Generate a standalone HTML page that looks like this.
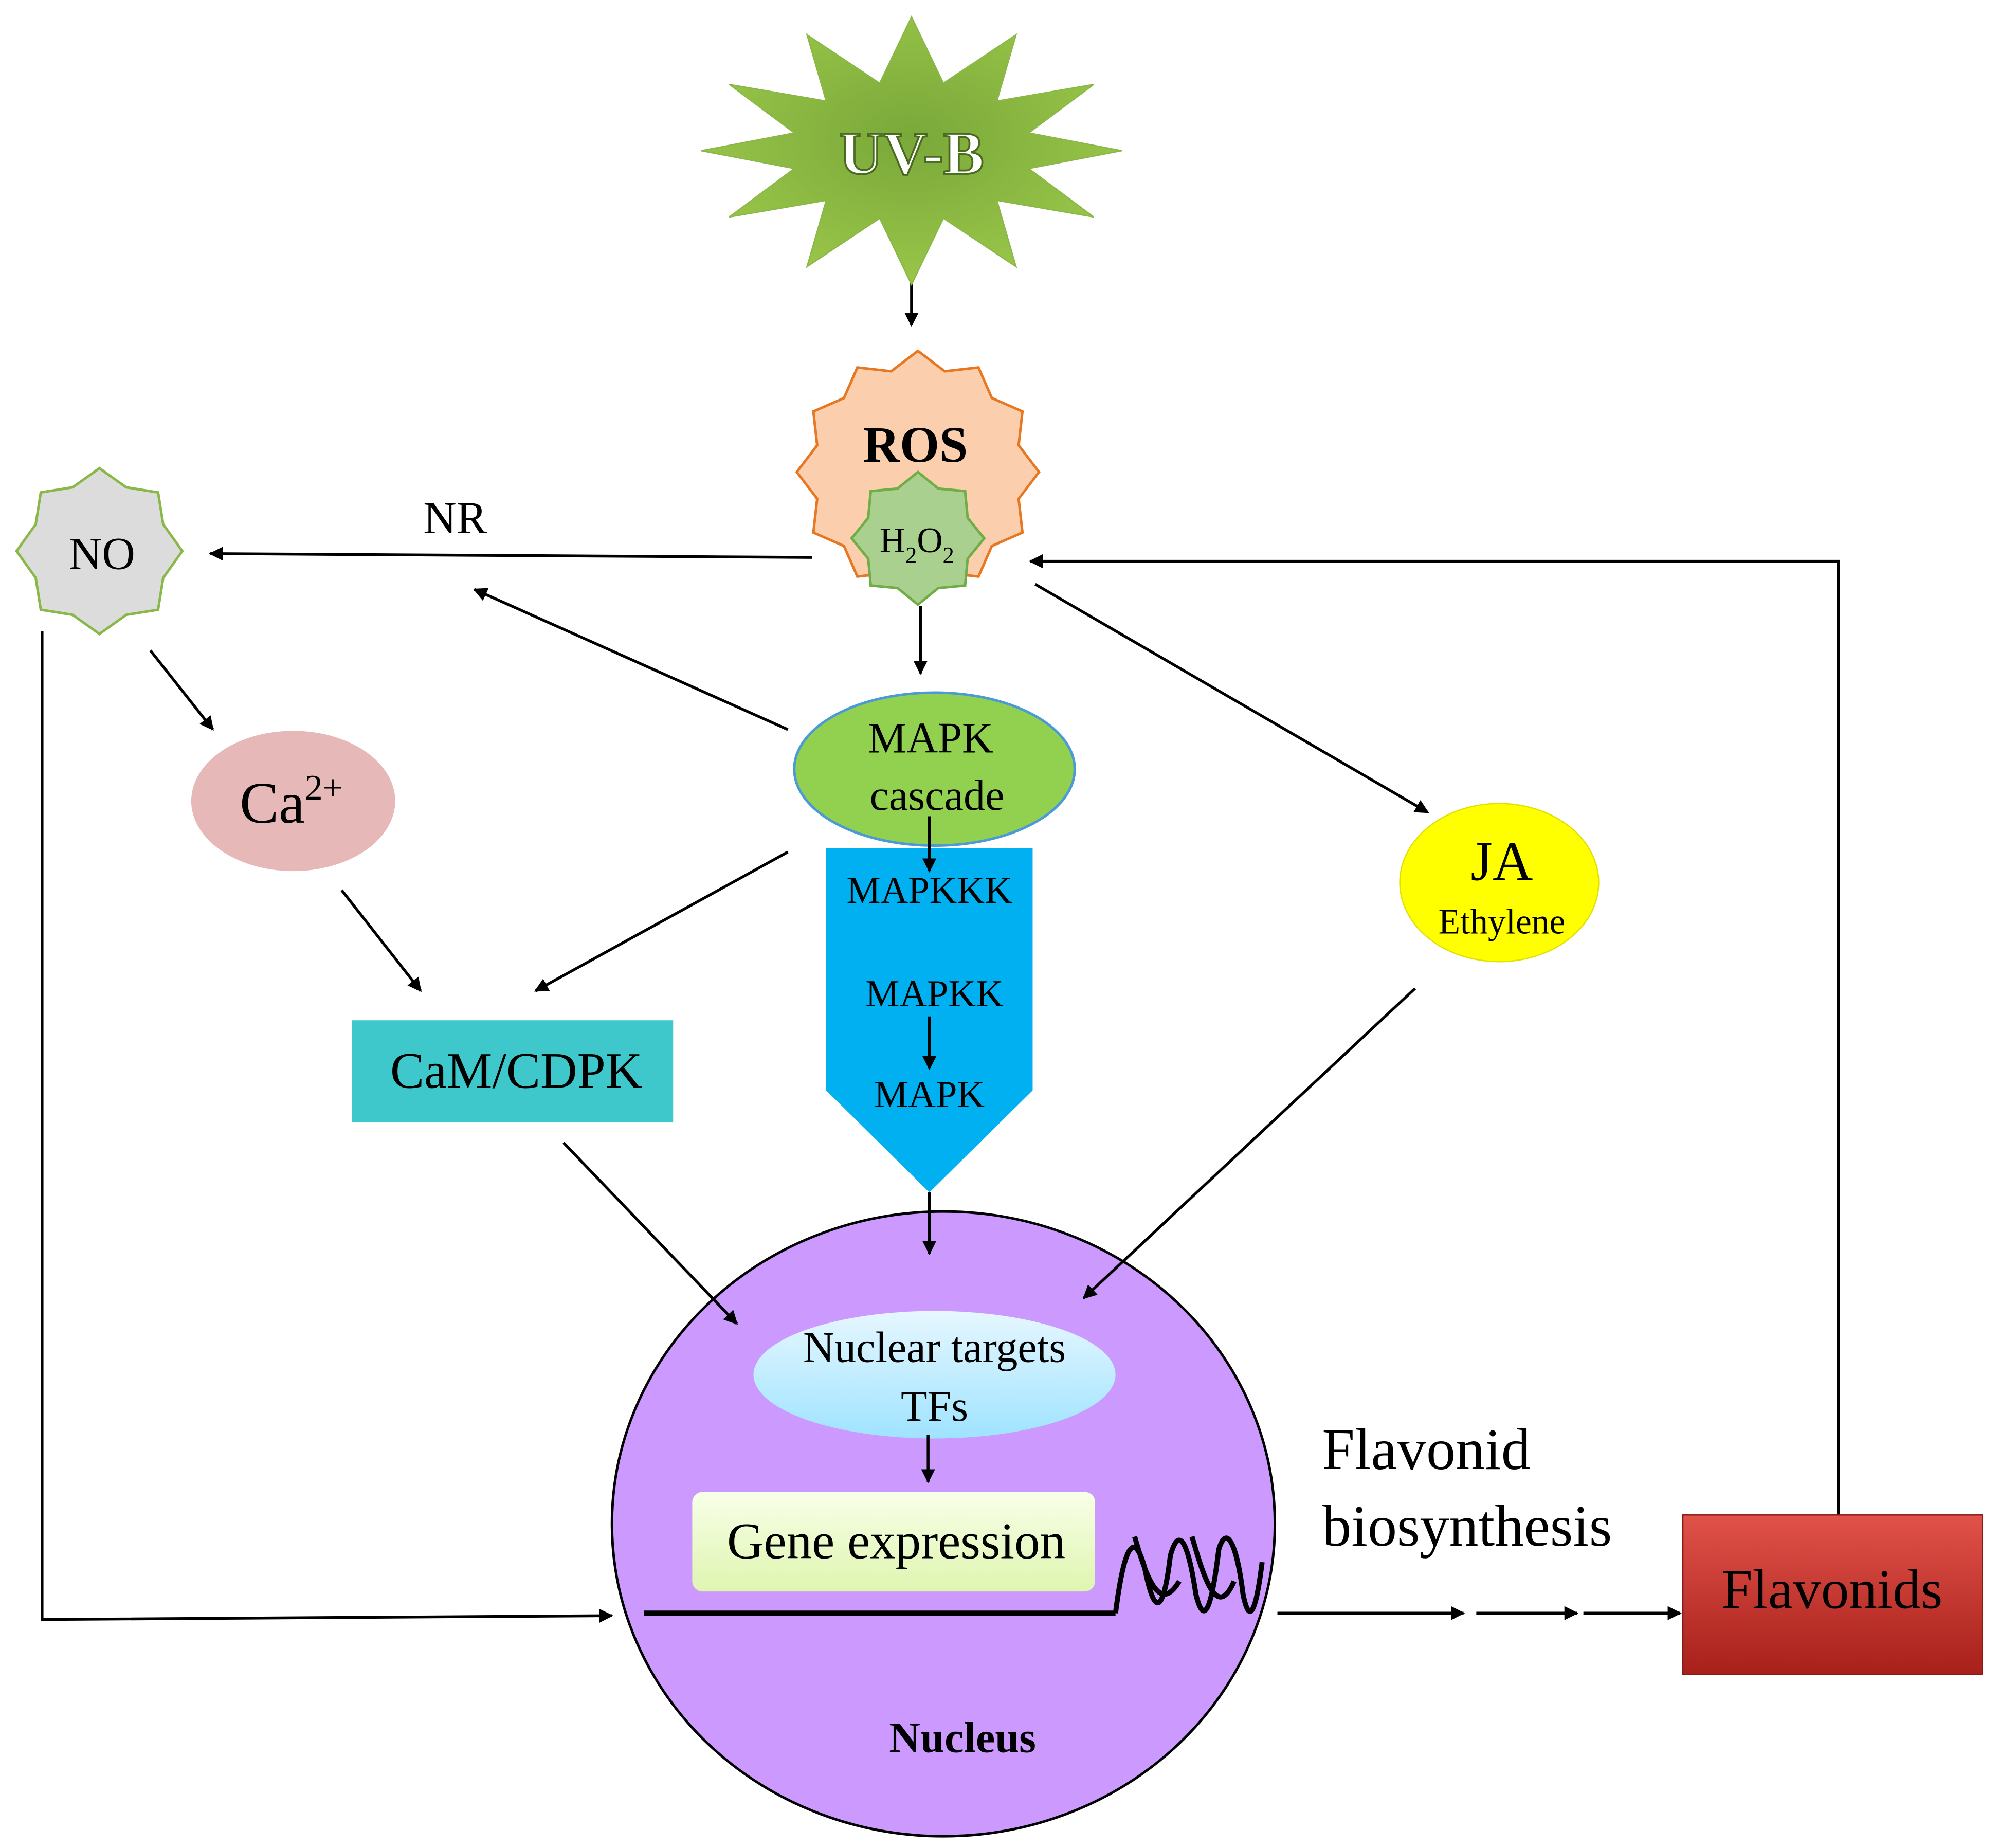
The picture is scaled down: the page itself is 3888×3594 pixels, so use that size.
<!DOCTYPE html>
<html><head><meta charset="utf-8"><style>html,body{margin:0;padding:0;background:#fff}svg{display:block}</style></head>
<body>
<svg width="3888" height="3594" viewBox="0 0 1568 1449" xmlns="http://www.w3.org/2000/svg" font-family="Liberation Serif, serif">
<defs>
<marker id="a" viewBox="0 0 10 10" refX="9" refY="5" markerWidth="5" markerHeight="5" orient="auto-start-reverse"><path d="M0,0L10,5L0,10z" fill="#000"/></marker>
<radialGradient id="gs" cx="50%" cy="45%" r="60%"><stop offset="0" stop-color="#7aa83a"/><stop offset="1" stop-color="#9cc84a"/></radialGradient>
<linearGradient id="gn" x1="0" y1="0" x2="0" y2="1"><stop offset="0" stop-color="#e6f7ff"/><stop offset="1" stop-color="#9fe3ff"/></linearGradient>
<linearGradient id="gg" x1="0" y1="0" x2="0" y2="1"><stop offset="0" stop-color="#f8ffe8"/><stop offset="1" stop-color="#dff5b0"/></linearGradient>
<linearGradient id="gf" x1="0" y1="0" x2="0" y2="1"><stop offset="0" stop-color="#e0524a"/><stop offset="1" stop-color="#a8201a"/></linearGradient>
</defs>
<g stroke="#000" stroke-width="2.2" fill="none" marker-end="url(#a)">
<line x1="715" y1="210" x2="715" y2="255"/>
<line x1="637" y1="437" x2="165" y2="434"/>
<polyline points="1442,1188 1442,440 808,440"/>
<line x1="722" y1="475" x2="722" y2="528"/>
<line x1="618" y1="572" x2="372" y2="462"/>
<line x1="812" y1="458" x2="1120" y2="637"/>
<line x1="118" y1="510" x2="167" y2="572"/>
<line x1="268" y1="698" x2="330" y2="777"/>
<line x1="618" y1="668" x2="420" y2="777"/>
<polyline points="33,495 33,1270 480,1267"/>
<line x1="1002" y1="1265" x2="1148" y2="1265"/>
<line x1="1158" y1="1265" x2="1237" y2="1265"/>
<line x1="1242" y1="1265" x2="1318" y2="1265"/>
</g>
<polygon points="880,118 807,132 858,170 782,157 797,209 740,171 715,223 690,171 633,209 648,157 572,170 623,132 550,118 623,104 572,66 648,79 633,27 690,65 715,13 740,65 797,27 782,79 858,66 807,104" fill="url(#gs)" stroke="#8ab848" stroke-width="1"/>
<text x="715" y="136" text-anchor="middle" font-size="48" font-weight="bold" fill="#fff" stroke="#4a6a20" stroke-width="1.5">UV-B</text>
<polygon points="815,370 799,391 802,417.5 778,428 767.5,452 741,449 720,465 699,449 672.5,452 662,428 638,417.5 641,391 625,370 641,349 638,322.5 662,312 672.5,288 699,291 720,275 741,291 767.5,288 778,312 802,322.5 799,349" fill="#fbcfae" stroke="#e87722" stroke-width="2"/>
<text x="718" y="362" text-anchor="middle" font-size="40" font-weight="bold">ROS</text>
<polygon points="772,422 759,438 757,459 736,461 720,474 704,461 683,459 681,438 668,422 681,406 683,385 704,383 720,370 736,383 757,385 759,406" fill="#a9d08e" stroke="#70ad47" stroke-width="2"/>
<text x="690" y="433" font-size="28">H<tspan font-size="18" dy="8">2</tspan><tspan dy="-8">O</tspan><tspan font-size="18" dy="8">2</tspan></text>
<polygon points="143,432 128,453 124,478 99,482 78,497 57,482 32,478 28,453 13,432 28,411 32,386 57,382 78,367 99,382 124,386 128,411" fill="#dcdcdc" stroke="#8ab848" stroke-width="2"/>
<text x="80" y="446" text-anchor="middle" font-size="36">NO</text>
<text x="357" y="418" text-anchor="middle" font-size="36">NR</text>
<ellipse cx="733" cy="603" rx="110" ry="60" fill="#92d050" stroke="#4a9ad5" stroke-width="2"/>
<text x="730" y="590" text-anchor="middle" font-size="34">MAPK</text>
<text x="735" y="635" text-anchor="middle" font-size="34">cascade</text>
<ellipse cx="1176" cy="692" rx="78" ry="62" fill="#ffff00" stroke="#e0e000"/>
<text x="1178" y="690" text-anchor="middle" font-size="44">JA</text>
<text x="1178" y="732" text-anchor="middle" font-size="28">Ethylene</text>
<ellipse cx="230" cy="628" rx="80" ry="55" fill="#e6b8b7"/>
<text x="188" y="645" font-size="46">Ca<tspan font-size="28" dy="-18">2+</tspan></text>
<rect x="276" y="800" width="252" height="80" fill="#3ec8cc"/>
<text x="405" y="853" text-anchor="middle" font-size="40">CaM/CDPK</text>
<polygon points="648,665 810,665 810,855 729,935 648,855" fill="#00b0f0"/>
<g stroke="#000" stroke-width="2.2" marker-end="url(#a)"><line x1="729" y1="640" x2="729" y2="683"/><line x1="729" y1="797" x2="729" y2="838"/></g>
<text x="729" y="708" text-anchor="middle" font-size="30">MAPKKK</text>
<text x="733" y="789" text-anchor="middle" font-size="30">MAPKK</text>
<text x="729" y="868" text-anchor="middle" font-size="30">MAPK</text>
<ellipse cx="740" cy="1195" rx="260" ry="245" fill="#cc99ff" stroke="#000" stroke-width="2"/>
<g stroke="#000" stroke-width="2.2" marker-end="url(#a)">
<line x1="729" y1="935" x2="729" y2="983"/>
<line x1="1110" y1="775" x2="850" y2="1018"/>
<line x1="442" y1="896" x2="578" y2="1038"/>
</g>
<ellipse cx="733" cy="1078" rx="142" ry="50" fill="url(#gn)"/>
<text x="733" y="1068" text-anchor="middle" font-size="34">Nuclear targets</text>
<text x="733" y="1114" text-anchor="middle" font-size="34">TFs</text>
<line x1="728" y1="1125" x2="728" y2="1162" stroke="#000" stroke-width="2.2" marker-end="url(#a)"/>
<rect x="543" y="1170" width="316" height="78" rx="8" fill="url(#gg)"/>
<text x="703" y="1222" text-anchor="middle" font-size="40">Gene expression</text>
<line x1="505" y1="1265" x2="875" y2="1265" stroke="#000" stroke-width="4"/>
<path d="M875,1265 C882,1210 890,1200 898,1230 C905,1265 912,1270 918,1220 C925,1195 932,1210 938,1250 C944,1275 950,1265 956,1215 C962,1195 970,1210 975,1250 C980,1275 985,1265 990,1225 M890,1205 C900,1240 910,1265 925,1240 M935,1205 C945,1240 955,1270 968,1240" fill="none" stroke="#000" stroke-width="4"/>
<text x="755" y="1374" text-anchor="middle" font-size="34" font-weight="bold">Nucleus</text>
<text x="1037" y="1152" font-size="46">Flavonid</text>
<text x="1037" y="1212" font-size="46">biosynthesis</text>
<rect x="1320" y="1188" width="235" height="125" fill="url(#gf)" stroke="#8a1a14"/>
<text x="1437" y="1261" text-anchor="middle" font-size="44">Flavonids</text>
</svg>
</body></html>
